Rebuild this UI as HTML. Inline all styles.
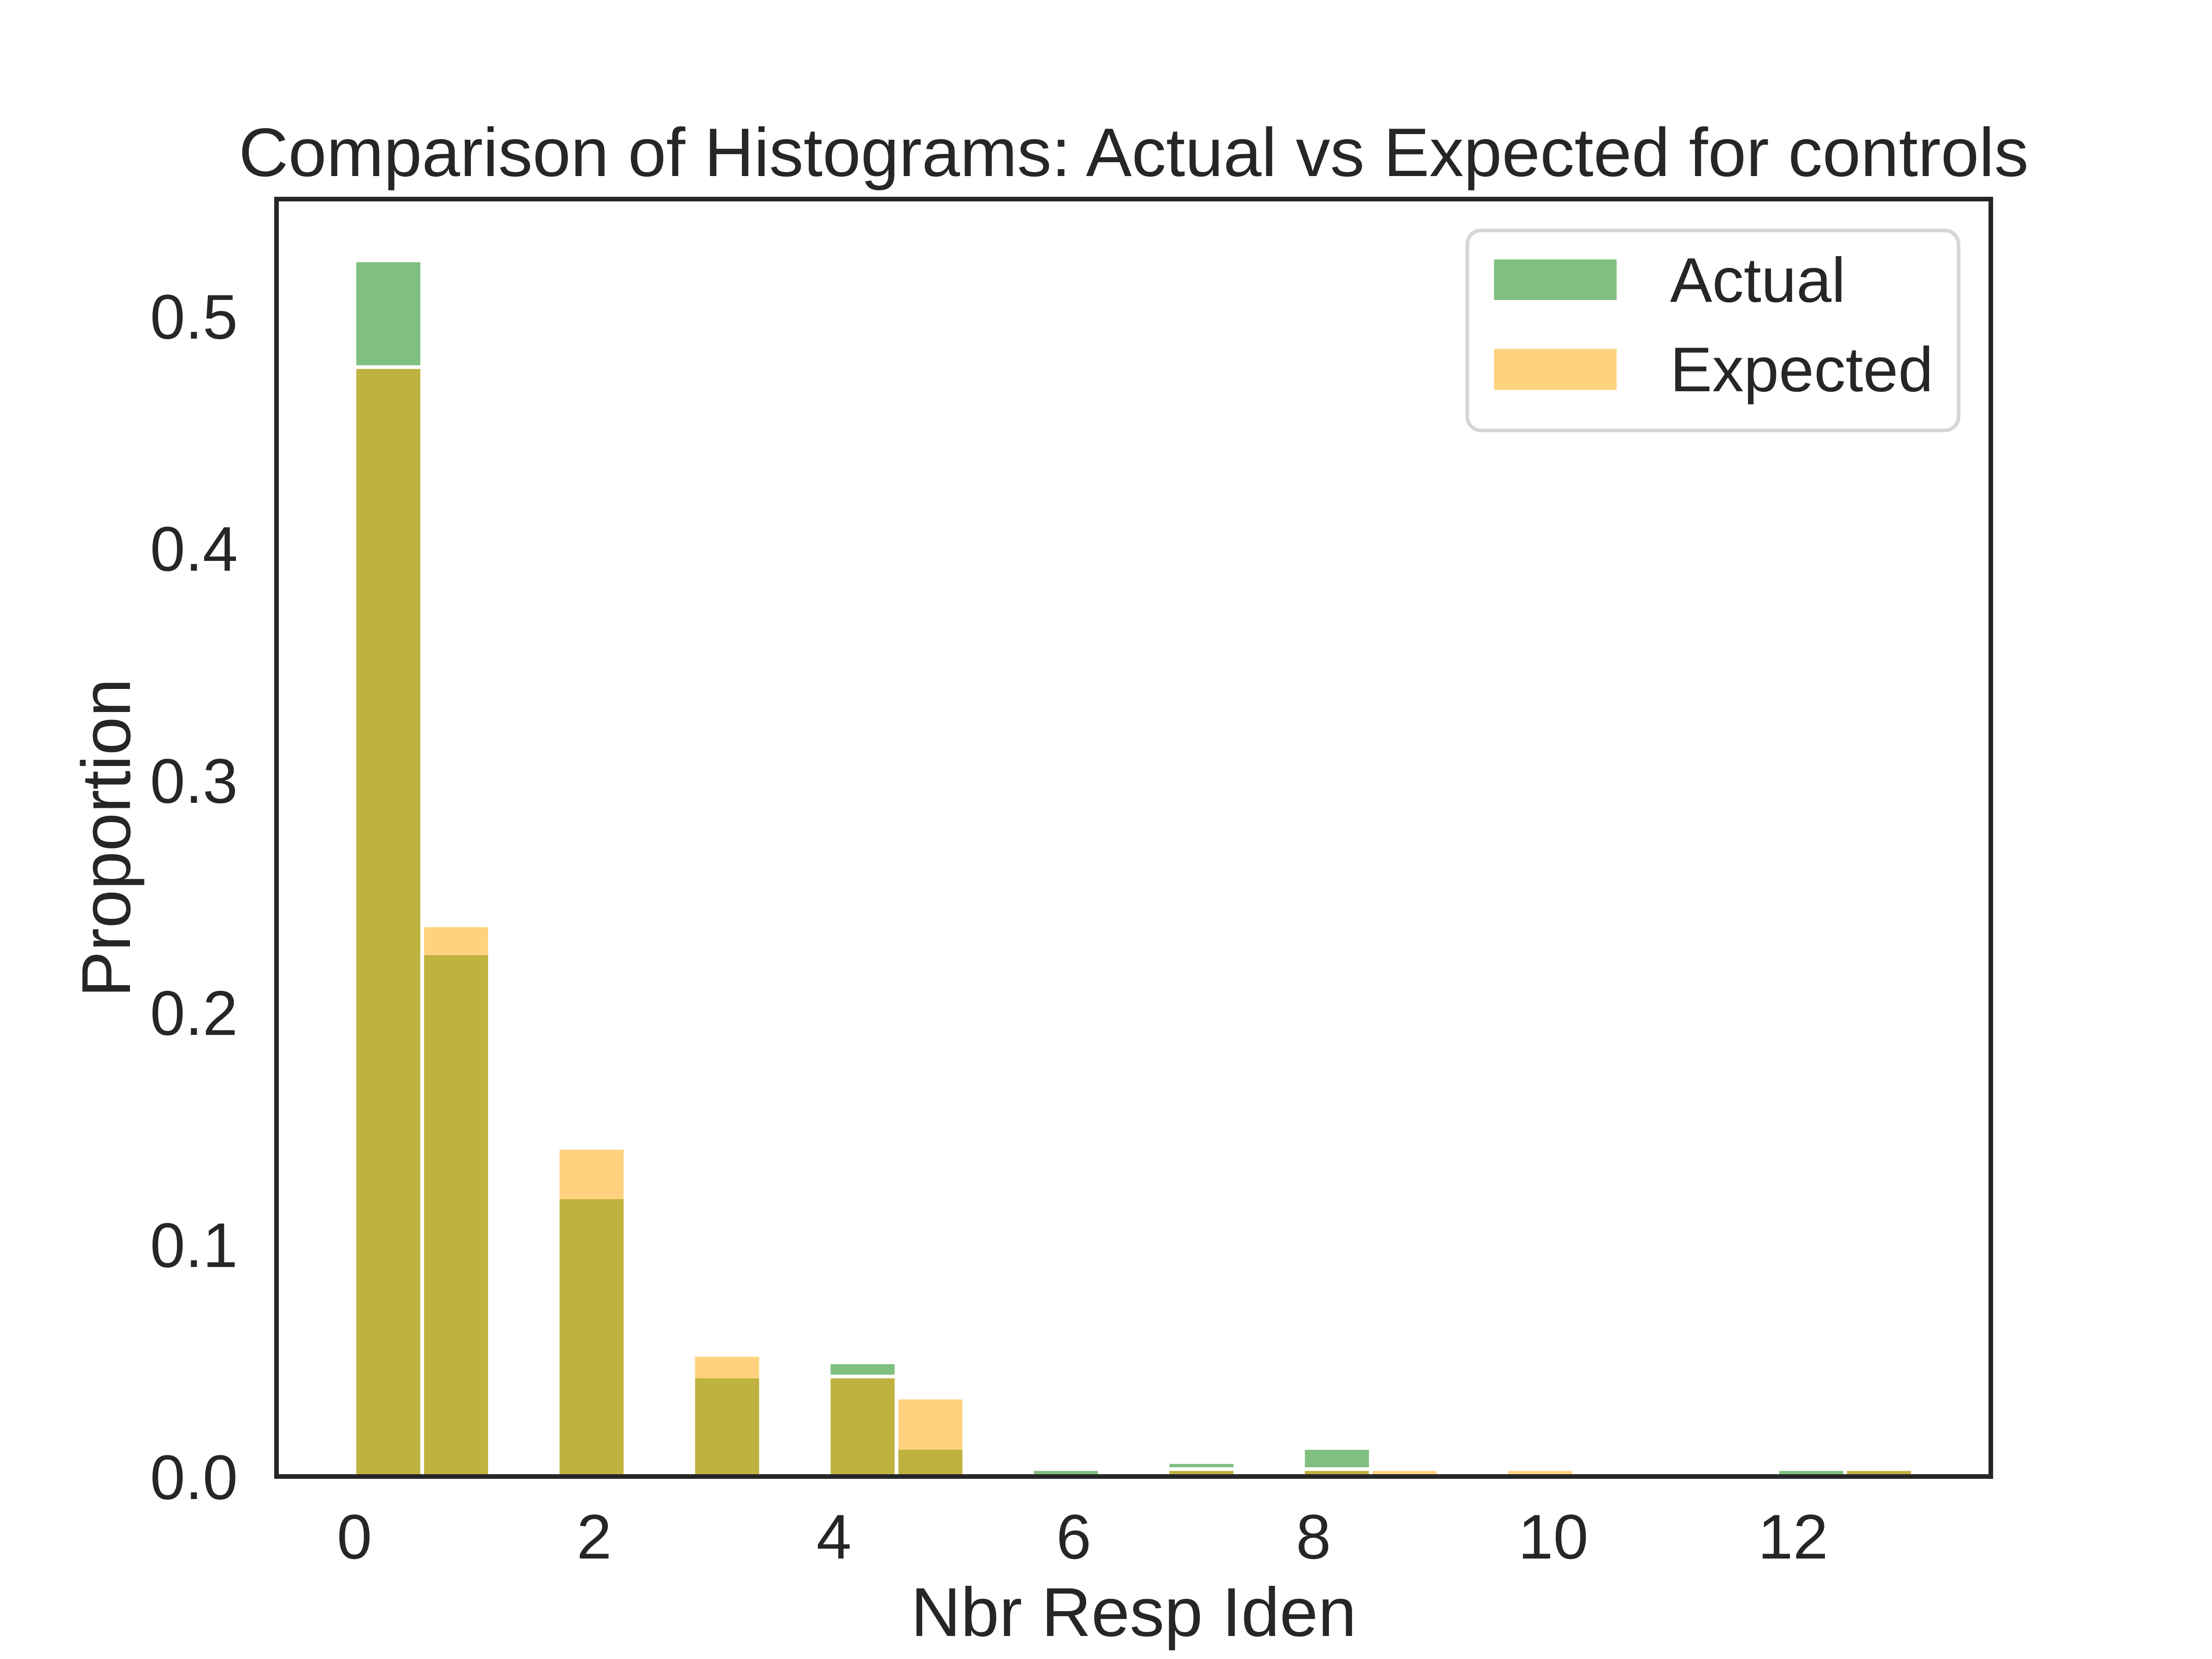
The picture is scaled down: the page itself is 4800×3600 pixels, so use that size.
<!DOCTYPE html>
<html><head><meta charset="utf-8"><style>
html,body{margin:0;padding:0;background:#fff;}
svg{display:block;font-family:"Liberation Sans",Arial,sans-serif;}
</style></head><body>
<svg id="chart" width="4800" height="3600" viewBox="0 0 4800 3600" xmlns="http://www.w3.org/2000/svg">
<rect x="0" y="0" width="4800" height="3600" fill="#fff"/>
<g id="bars-actual"></g>
<g id="bars-expected"></g>
<rect x="600" y="432" width="3720" height="2772" fill="none" stroke="#262626" stroke-width="10"/>
<g id="xticks"></g>
<g id="yticks"></g>
<text x="2460" y="382" font-size="149" fill="#262626" text-anchor="middle">Comparison of Histograms: Actual vs Expected for controls</text>
<text x="2460" y="3550" font-size="150" fill="#262626" text-anchor="middle">Nbr Resp Iden</text>
<text transform="translate(282,1818) rotate(-90)" font-size="150" fill="#262626" text-anchor="middle">Proportion</text>
<g>
<rect x="3184" y="500" width="1066" height="434" rx="30" fill="#fff" stroke="#d6d6d6" stroke-width="8"/>
<rect x="3242" y="563" width="266" height="88" fill="#008000" fill-opacity="0.5"/>
<text x="3624" y="655" font-size="137" fill="#262626">Actual</text>
<rect x="3242" y="757" width="266" height="89" fill="#FFA500" fill-opacity="0.5"/>
<text x="3624" y="849" font-size="137" fill="#262626">Expected</text>
</g>
</svg>
<script>
const binCount = 23;
const binRange = [0, 13];
const actualValues = [0.524,0.2254,0,0.1203,0,0.0431,0,0.0492,0.0123,0,0.0032,0,0.0062,0,0.0123,0,0,0,0,0,0,0.0032,0.0032];
const expectedValues = [0.478,0.2375,0,0.1416,0,0.0524,0,0.0431,0.034,0,0,0,0.0032,0,0.0032,0.0032,0,0.0032,0,0,0,0,0.0032];
const xTickValues = [0,2,4,6,8,10,12];
const xTickLabels = ["0","2","4","6","8","10","12"];
const yTickValues = [0,0.1,0.2,0.3,0.4,0.5];
const yTickLabels = ["0.0","0.1","0.2","0.3","0.4","0.5"];

const NS = "http://www.w3.org/2000/svg";
const X0 = 600, X1 = 4320, Y0 = 3204, Y1 = 432;
const xMin = -0.65, xMax = 13.65, yMin = 0, yMax = 0.5504;
function xScale(v){ return X0 + (v - xMin) / (xMax - xMin) * (X1 - X0); }
function yScale(v){ return Y0 - (v - yMin) / (yMax - yMin) * (Y0 - Y1); }
const binW = (binRange[1] - binRange[0]) / binCount;

function drawBars(groupId, values, color, label){
  const g = document.getElementById(groupId);
  values.forEach((v, i) => {
    if (v <= 0) return;
    const a = binRange[0] + i * binW, b = a + binW;
    const r = document.createElementNS(NS, "rect");
    
    
    r.setAttribute("x", xScale(a));
    r.setAttribute("y", yScale(v));
    r.setAttribute("width", xScale(b) - xScale(a));
    r.setAttribute("height", yScale(0) - yScale(v));
    r.setAttribute("fill", color);
    r.setAttribute("fill-opacity", "0.5");
    r.setAttribute("stroke", "#fff");
    r.setAttribute("stroke-width", "8");
    g.appendChild(r);
  });
}
drawBars("bars-actual", actualValues, "#008000", "actual");
drawBars("bars-expected", expectedValues, "#FFA500", "expected");

const xg = document.getElementById("xticks");
xTickValues.forEach((v, i) => {
  const t = document.createElementNS(NS, "text");
  
  
  t.setAttribute("x", xScale(v));
  t.setAttribute("y", 3382);
  t.setAttribute("font-size", "137");
  t.setAttribute("fill", "#262626");
  t.setAttribute("text-anchor", "middle");
  t.textContent = xTickLabels[i];
  xg.appendChild(t);
});
const yg = document.getElementById("yticks");
yTickValues.forEach((v, i) => {
  const t = document.createElementNS(NS, "text");
  
  
  t.setAttribute("x", 516);
  t.setAttribute("y", yScale(v) + 49);
  t.setAttribute("font-size", "137");
  t.setAttribute("fill", "#262626");
  t.setAttribute("text-anchor", "end");
  t.textContent = yTickLabels[i];
  yg.appendChild(t);
});
</script>
</body></html>
